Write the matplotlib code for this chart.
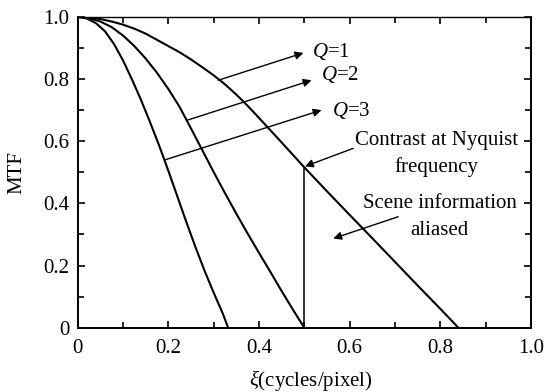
import matplotlib
matplotlib.use("Agg")
import matplotlib.pyplot as plt
from matplotlib.ticker import MultipleLocator

# ---- data ----
q1_x = [0, 0.025, 0.05, 0.075, 0.10, 0.125, 0.15, 0.175, 0.20, 0.225, 0.25, 0.275, 0.30,
        0.325, 0.35, 0.375, 0.40, 0.45, 0.50, 0.55, 0.60, 0.65, 0.70, 0.75, 0.80, 0.84]
q1_y = [1.0, 0.998, 0.993, 0.985, 0.975, 0.962, 0.946, 0.926, 0.906, 0.886, 0.863, 0.838, 0.812,
        0.783, 0.750, 0.714, 0.675, 0.596, 0.516, 0.439, 0.363, 0.288, 0.212, 0.136, 0.061, 0.0]

q2_x = [0, 0.025, 0.05, 0.075, 0.10, 0.125, 0.15, 0.175, 0.20, 0.225, 0.25, 0.275, 0.30,
        0.325, 0.35, 0.375, 0.40, 0.425, 0.45, 0.475, 0.50]
q2_y = [1.0, 0.996, 0.985, 0.967, 0.940, 0.906, 0.866, 0.820, 0.768, 0.710, 0.641, 0.571, 0.501,
        0.433, 0.367, 0.303, 0.241, 0.180, 0.118, 0.058, 0.0]

q3_x = [0, 0.02, 0.04, 0.06, 0.08, 0.10, 0.12, 0.14, 0.16, 0.18, 0.20, 0.22, 0.24,
        0.26, 0.28, 0.30, 0.32, 0.332]
q3_y = [1.0, 0.995, 0.980, 0.954, 0.913, 0.860, 0.798, 0.732, 0.660, 0.585, 0.505, 0.422, 0.339,
        0.259, 0.183, 0.113, 0.046, 0.0]

nyquist_x = 0.5
nyquist_mtf = 0.516

tick_vals = [0, 0.2, 0.4, 0.6, 0.8, 1.0]
tick_labels = ["0", "0.2", "0.4", "0.6", "0.8", "1.0"]

x_label = r"$\xi$(cycles/pixel)"
y_label = "MTF"

plt.rcParams['font.family'] = ['Liberation Serif', 'DejaVu Serif']
plt.rcParams['mathtext.fontset'] = 'custom'
plt.rcParams['mathtext.rm'] = 'Liberation Serif'
plt.rcParams['mathtext.it'] = 'Liberation Serif:italic'

fs = 15
fig = plt.figure(figsize=(5.49, 3.92), dpi=100)
ax = fig.add_axes([0.1415, 0.164, 0.8255, 0.793])

lc = 'black'
ax.plot(q1_x, q1_y, color=lc, lw=1.5, solid_joinstyle='round')
ax.plot(q2_x, q2_y, color=lc, lw=1.5, solid_joinstyle='round')
ax.plot(q3_x, q3_y, color=lc, lw=1.5, solid_joinstyle='round')
ax.plot([nyquist_x, nyquist_x], [0, nyquist_mtf], color=lc, lw=1.1)

ax.set_xlim(0, 1.0)
ax.set_ylim(0, 1.0)
ax.set_xticks(tick_vals)
ax.set_xticklabels(tick_labels)
ax.set_yticks(tick_vals)
ax.set_yticklabels(tick_labels)
ax.xaxis.set_minor_locator(MultipleLocator(0.1))
ax.yaxis.set_minor_locator(MultipleLocator(0.1))
ax.tick_params(which='both', direction='in', top=True, right=True, width=1.2, labelsize=fs)
ax.tick_params(which='major', length=5)
ax.tick_params(which='minor', length=4)
ax.tick_params(axis='x', pad=8)
ax.tick_params(axis='y', pad=6)

for s in ['left', 'bottom', 'right']:
    ax.spines[s].set_linewidth(1.4)
ax.spines['top'].set_linewidth(1.0)
ax.spines['top'].set_linestyle((0, (1, 1)))

ax.set_xlabel(x_label, fontsize=fs)
ax.set_ylabel(y_label, fontsize=fs)
ax.xaxis.set_label_coords(0.515, -0.128)
ax.yaxis.set_label_coords(-0.113, 0.5)

ap = dict(arrowstyle='-|>', lw=1.0, color=lc, mutation_scale=12, shrinkA=0, shrinkB=0)

# Q labels with arrows from curves
ax.annotate("", xy=(0.498, 0.884), xytext=(0.310, 0.796), arrowprops=ap)
ax.text(0.518, 0.887, r"$Q$=1", fontsize=fs, ha='left', va='center')
ax.annotate("", xy=(0.516, 0.796), xytext=(0.2405, 0.667), arrowprops=ap)
ax.text(0.536, 0.813, r"$Q$=2", fontsize=fs, ha='left', va='center')
ax.annotate("", xy=(0.538, 0.700), xytext=(0.1926, 0.540), arrowprops=ap)
ax.text(0.562, 0.700, r"$Q$=3", fontsize=fs, ha='left', va='center')

# Contrast at Nyquist
ax.annotate("", xy=(0.5015, 0.519), xytext=(0.608, 0.577), arrowprops=ap)
ax.text(0.791, 0.603, "Contrast at Nyquist", fontsize=fs, ha='center', va='center')
ax.text(0.791, 0.518, "frequency", fontsize=fs, ha='center', va='center')

# Scene information aliased
ax.annotate("", xy=(0.564, 0.287), xytext=(0.707, 0.357), arrowprops=ap)
ax.text(0.799, 0.400, "Scene information", fontsize=fs, ha='center', va='center')
ax.text(0.799, 0.314, "aliased", fontsize=fs, ha='center', va='center')

fig.savefig("out.png", dpi=100)
